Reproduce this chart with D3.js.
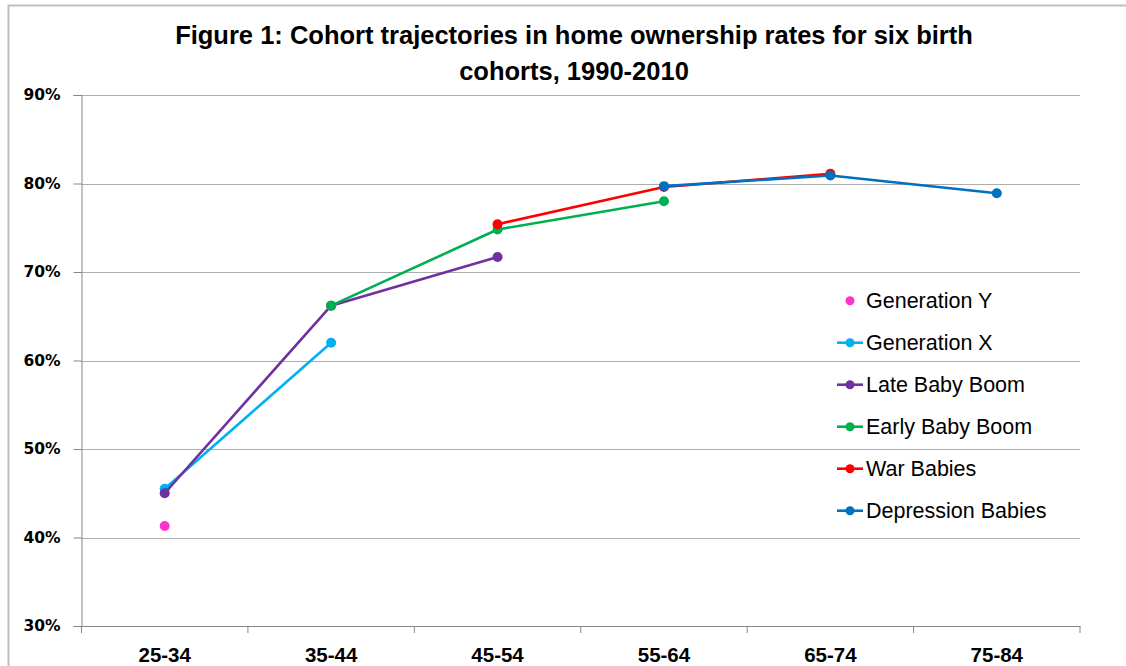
<!DOCTYPE html>
<html>
<head>
<meta charset="utf-8">
<script src="https://cdn.jsdelivr.net/npm/d3@7"></script>
<style>
  html, body { margin: 0; padding: 0; background: #fff; }
  svg { display: block; }
</style>
</head>
<body>
<svg id="chart" width="1126" height="666"></svg>
<script>
// ---- data ----
const categories = ["25-34", "35-44", "45-54", "55-64", "65-74", "75-84"];
const yTicks = [0.3, 0.4, 0.5, 0.6, 0.7, 0.8, 0.9];

const genY = [0.413, null, null, null, null, null];
const genX = [0.455, 0.620, null, null, null, null];
const lateBabyBoom = [0.450, 0.662, 0.717, null, null, null];
const earlyBabyBoom = [null, 0.662, 0.748, 0.780, null, null];
const warBabies = [null, null, 0.754, 0.796, 0.811, null];
const depressionBabies = [null, null, null, 0.797, 0.809, 0.789];

const seriesNames = ["Generation Y", "Generation X", "Late Baby Boom", "Early Baby Boom", "War Babies", "Depression Babies"];
const seriesValues = [genY, genX, lateBabyBoom, earlyBabyBoom, warBabies, depressionBabies];
const seriesColors = ["#FF33CC", "#00B0F0", "#7030A0", "#00B050", "#FF0000", "#0070C0"];
const seriesHasLine = [false, true, true, true, true, true];

// ---- layout ----
const svg = d3.select("#chart");
const plot = { left: 81.5, right: 1080, top: 95, bottom: 626 };

const x = d3.scaleBand().domain(categories).range([plot.left, plot.right]);
const y = d3.scaleLinear().domain([0.3, 0.9]).range([plot.bottom, plot.top]);

// outer frame
svg.append("rect")
  .attr("x", 8.5).attr("y", 5.5).attr("width", 1130).attr("height", 700)
  .attr("fill", "none").attr("stroke", "#BFBFBF").attr("stroke-width", 2);

// title
const title = svg.append("text")
  .attr("text-anchor", "middle")
  .attr("font-family", "'Liberation Sans', Arial, sans-serif")
  .attr("font-weight", "bold")
  .attr("font-size", 25.5)
  .attr("fill", "#000");
title.append("tspan").attr("x", 574).attr("y", 44).text("Figure 1: Cohort trajectories in home ownership rates for six birth");
title.append("tspan").attr("x", 574).attr("y", 80).text("cohorts, 1990-2010");

// gridlines
svg.append("g")
  .selectAll("line")
  .data(yTicks.filter(t => t > 0.3))
  .join("line")
  .attr("x1", plot.left).attr("x2", plot.right)
  .attr("y1", d => Math.round(y(d)) + 0.5).attr("y2", d => Math.round(y(d)) + 0.5)
  .attr("stroke", "#ADADAD").attr("stroke-width", 1.2);

// y axis
const yAxis = svg.append("g")
  .attr("transform", `translate(${plot.left},0)`)
  .call(d3.axisLeft(y).tickValues(yTicks).tickFormat(d3.format(".0%")).tickSize(8).tickPadding(6));
yAxis.select(".domain").attr("stroke", "#868686");
yAxis.selectAll(".tick line").attr("stroke", "#868686");
yAxis.selectAll(".tick text")
  .attr("font-family", "'DejaVu Sans', Verdana, sans-serif")
  .attr("font-weight", "bold")
  .attr("font-size", 15.5)
  .attr("fill", "#000")
  .attr("x", -21);

// x axis
const xAxis = svg.append("g")
  .attr("transform", `translate(0,${plot.bottom})`)
  .call(d3.axisBottom(x).tickSize(0).tickPadding(0));
xAxis.select(".domain").attr("stroke", "#868686");
xAxis.selectAll(".tick text")
  .attr("font-family", "'Liberation Sans', Arial, sans-serif")
  .attr("font-weight", "bold")
  .attr("font-size", 20.5)
  .attr("fill", "#000")
  .attr("dy", 0)
  .attr("y", 36);
// x category boundary ticks
svg.append("g")
  .selectAll("line")
  .data(categories.map((c, i) => i).concat([categories.length]))
  .join("line")
  .attr("x1", i => i < categories.length ? x(categories[i]) : x.range()[1])
  .attr("x2", i => i < categories.length ? x(categories[i]) : x.range()[1])
  .attr("y1", plot.bottom).attr("y2", plot.bottom + 7)
  .attr("stroke", "#868686");

// series
const line = d3.line()
  .defined(d => d.v !== null)
  .x(d => x(d.c) + x.bandwidth() / 2)
  .y(d => y(d.v));

seriesValues.forEach((vals, si) => {
  const pts = vals.map((v, i) => ({ c: categories[i], v }));
  const g = svg.append("g");
  if (seriesHasLine[si]) {
    g.append("path")
      .datum(pts)
      .attr("d", line)
      .attr("fill", "none")
      .attr("stroke", seriesColors[si])
      .attr("stroke-width", 2.6)
      .attr("stroke-linejoin", "round");
  }
  g.selectAll("circle")
    .data(pts.filter(d => d.v !== null))
    .join("circle")
    .attr("cx", d => x(d.c) + x.bandwidth() / 2)
    .attr("cy", d => y(d.v))
    .attr("r", 5)
    .attr("fill", seriesColors[si]);
});

// legend
const legend = svg.append("g");
const legendY = d3.scalePoint().domain(seriesNames).range([300.7, 510.7]);
seriesNames.forEach((name, si) => {
  const ly = legendY(name);
  if (seriesHasLine[si]) {
    legend.append("line")
      .attr("x1", 837).attr("x2", 863)
      .attr("y1", ly).attr("y2", ly)
      .attr("stroke", seriesColors[si]).attr("stroke-width", 2.6);
  }
  legend.append("circle")
    .attr("cx", 850).attr("cy", ly).attr("r", 4.5)
    .attr("fill", seriesColors[si]);
  legend.append("text")
    .attr("x", 866).attr("y", ly)
    .attr("dy", "0.36em")
    .attr("font-family", "'Liberation Sans', Arial, sans-serif")
    .attr("font-size", 21.5)
    .attr("fill", "#000")
    .text(name);
});
</script>
</body>
</html>
